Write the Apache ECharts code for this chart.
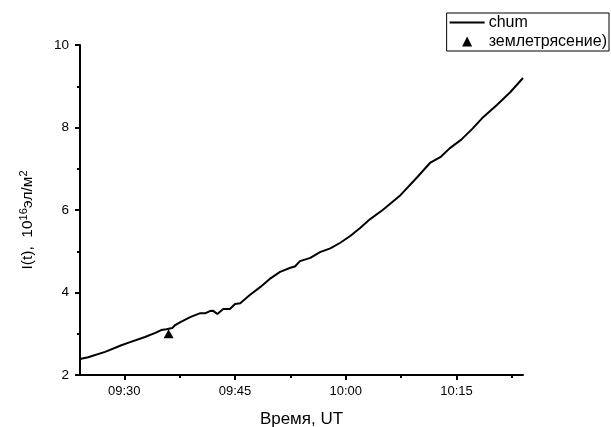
<!DOCTYPE html>
<html lang="ru">
<head>
    <meta charset="UTF-8" />
    <title>I(t) chum</title>
    <script src="https://cdn.jsdelivr.net/npm/echarts@6/dist/echarts.min.js"></script>
    <style>
        html, body { margin: 0; padding: 0; background: #fff; }
        #main { width: 611px; height: 427px; }
    </style>
</head>
<body>
<div id="main"></div>
<script type="text/javascript">
    // время в минутах от полуночи (UT) и значения I(t), 10^16 эл/м^2
    var times = [564.0, 565.1, 567.4, 569.6, 570.5, 572.8, 574.2, 575.0, 575.7, 576.5,
                 576.9, 577.6, 579.0, 580.3, 581.0, 581.6, 582.0, 582.6, 583.4, 584.3,
                 585.0, 585.7, 587.0, 588.4, 589.7, 591.1, 592.5, 593.1, 593.8, 595.2,
                 596.5, 597.9, 599.2, 600.6, 601.9, 603.3, 605.0, 607.4, 609.7, 611.4,
                 612.8, 614.1, 615.6, 617.1, 618.6, 620.5, 622.3, 624.0];
    var values = [2.39, 2.43, 2.56, 2.72, 2.78, 2.92, 3.02, 3.09, 3.11, 3.14,
                  3.21, 3.28, 3.41, 3.50, 3.50, 3.55, 3.56, 3.48, 3.60, 3.60,
                  3.72, 3.74, 3.94, 4.13, 4.33, 4.50, 4.60, 4.63, 4.76, 4.84,
                  4.98, 5.07, 5.20, 5.37, 5.56, 5.78, 6.00, 6.36, 6.80, 7.14,
                  7.28, 7.50, 7.70, 7.96, 8.25, 8.55, 8.86, 9.20];
    // землетрясение
    var quakeTime = [576.0];
    var quakeValue = [3.0];

    var majorTicks = [570, 585, 600, 615];
    var minorTicks = [577.5, 592.5, 607.5, 622.5];

    function hhmm(v) {
        var h = Math.floor(v / 60), m = Math.round(v - h * 60);
        return (h < 10 ? '0' : '') + h + ':' + (m < 10 ? '0' : '') + m;
    }

    var lineData = [];
    for (var i = 0; i < times.length; i++) {
        lineData.push([times[i], values[i]]);
    }
    var quakeData = [];
    for (var j = 0; j < quakeTime.length; j++) {
        quakeData.push([quakeTime[j], quakeValue[j]]);
    }

    var font = 'Liberation Sans, Arial, sans-serif';
    var myChart = echarts.init(document.getElementById('main'));
    var option = {
        backgroundColor: '#fff',
        animation: false,
        textStyle: { fontFamily: font, color: '#000' },
        grid: { left: 80, top: 45, right: 88, bottom: 52, containLabel: false, outerBoundsMode: 'none' },
        legend: {
            orient: 'vertical',
            right: 2,
            top: 13,
            itemWidth: 35,
            itemHeight: 10,
            itemGap: 2,
            symbolKeepAspect: true,
            padding: [1, 2, 1, 3],
            borderColor: '#000',
            borderWidth: 1,
            borderRadius: 0,
            textStyle: { fontFamily: font, fontSize: 16, lineHeight: 17, color: '#000', padding: [0, 0, 0, -1] },
            data: [
                { name: 'chum', icon: 'path://M0,0 L35,0 L35,2.2 L0,2.2 Z' },
                { name: 'землетрясение)', icon: 'path://M4,0 L8,8 L0,8 Z', itemStyle: { opacity: 1 } }
            ]
        },
        xAxis: [{
            type: 'value',
            min: 564,
            max: 624,
            axisLine: { lineStyle: { color: '#000', width: 2 } },
            axisTick: { show: true, customValues: majorTicks, length: 5, lineStyle: { color: '#000', width: 2 } },
            axisLabel: {
                customValues: majorTicks,
                margin: 10,
                fontSize: 13,
                color: '#000',
                fontFamily: font,
                formatter: hhmm
            },
            splitLine: { show: false },
            name: 'Время, UT',
            nameLocation: 'middle',
            nameGap: 36,
            nameTextStyle: { fontSize: 17, color: '#000', fontFamily: font }
        }, {
            type: 'value',
            position: 'bottom',
            min: 564,
            max: 624,
            axisLine: { show: false },
            axisTick: { show: true, customValues: minorTicks, length: 3, lineStyle: { color: '#000', width: 2 } },
            axisLabel: { show: false },
            splitLine: { show: false }
        }],
        yAxis: {
            type: 'value',
            min: 2,
            max: 10,
            interval: 2,
            axisLine: { show: true, lineStyle: { color: '#000', width: 2 } },
            axisTick: { show: true, length: 5, lineStyle: { color: '#000', width: 2 } },
            minorTick: { show: true, splitNumber: 2, length: 3, lineStyle: { color: '#000', width: 2 } },
            axisLabel: { margin: 11, fontSize: 13.5, color: '#000', fontFamily: font },
            splitLine: { show: false }
        },
        graphic: [{
            type: 'text',
            x: 28,
            y: 220,
            rotation: Math.PI / 2,
            style: {
                text: 'I(t),  10{sup|16}эл/м{sup|2}',
                fontFamily: font,
                fontSize: 15.5,
                fill: '#000',
                align: 'center',
                verticalAlign: 'middle',
                rich: {
                    sup: { fontSize: 11, verticalAlign: 'top', padding: [0, 0, 8, 0], fontFamily: font, fill: '#000' }
                }
            }
        }],
        series: [{
            name: 'chum',
            type: 'line',
            data: lineData,
            symbol: 'none',
            smooth: false,
            lineStyle: { color: '#000', width: 2 },
            itemStyle: { color: '#000' }
        }, {
            name: 'землетрясение)',
            type: 'scatter',
            data: quakeData,
            symbol: 'triangle',
            symbolSize: [10, 9],
            itemStyle: { color: '#000', opacity: 1 }
        }]
    };
    myChart.setOption(option);
</script>
</body>
</html>
